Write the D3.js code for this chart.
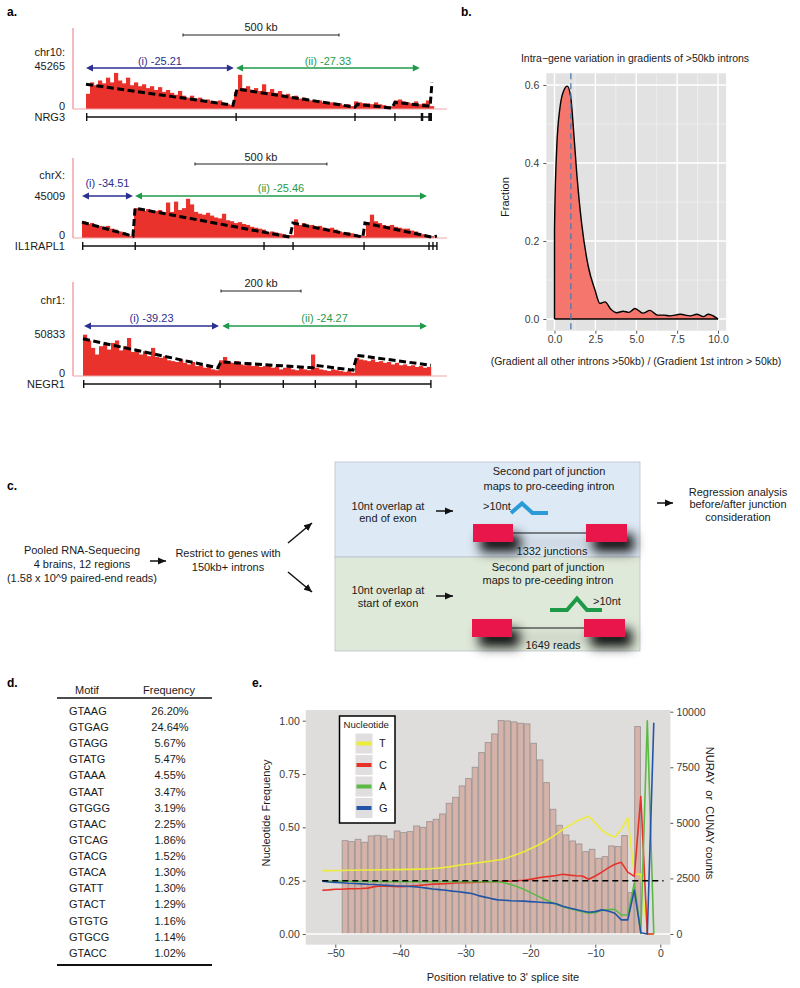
<!DOCTYPE html>
<html><head><meta charset="utf-8">
<script src="https://cdnjs.cloudflare.com/ajax/libs/d3/7.8.5/d3.min.js"></script>
<style>
html,body{margin:0;padding:0;background:#fff;}
svg{display:block;}
text{font-family:"Liberation Sans",Arial,Helvetica,sans-serif;}
</style></head><body>
<svg id="fig" width="800" height="988"></svg>
<script>
// ======================= DATA =======================
// ---- Panel a: coverage tracks (values in thousands of reads) ----
const trackChrom = ["chr10:", "chrX:", "chr1:"];
const trackGene = ["NRG3", "IL1RAPL1", "NEGR1"];
const trackMax = [45265, 45009, 50833];
const trackSpanKb = [1109, 1345, 870];
const trackBinKb = [12.82, 15.15, 10];
const scaleBarKb = [[311, 811], [428, 928], [345, 545]];
const scaleBarText = ["500 kb", "500 kb", "200 kb"];
const arrowIKb = [[0, 474], [0, 193], [2.5, 340]];
const arrowIIKb = [[481, 1070], [201, 1307], [348, 860]];
const gradI = ["(i) -25.21", "(i) -34.51", "(i) -39.23"];
const gradII = ["(ii) -27.33", "(ii) -25.46", "(ii) -24.27"];

const cov1 = [16,28,25,30,27,33,28,38,30,27,33,25,28,24,26,22,24,20,23,18,20,17,15,19,14,12,14,11,12,9,10,8,7,9,6,5,4,
  18,36,22,24,20,22,19,26,18,21,17,19,15,16,13,14,11,12,10,9,8,9,7,6,7,5,6,4,5,3,
  8,7,6,6,5,7,5,4,3,3,
  9,10,8,7,6,8,5,
  6,9,3];
const cov2 = [18,15,16,14,13,12,13,10,9,7,6,4,2,
  32,30,29,31,28,29,30,27,38,28,39,30,32,42,36,28,26,25,27,24,22,21,26,19,18,16,17,15,14,12,11,10,9,6,7,6,5,4,3,3,
  20,14,16,13,14,12,13,11,10,11,9,7,6,6,5,4,3,2,
  17,25,18,16,14,13,14,12,11,10,10,8,7,5,4,3,2];
const cov3 = [50,43,34,26,36,38,32,40,43,31,36,46,29,32,26,30,24,34,23,22,24,19,18,17,20,16,14,17,12,13,10,11,8,7,
  19,23,17,16,18,14,13,16,12,13,11,12,14,10,11,8,10,11,8,7,10,8,7,26,10,8,7,6,8,7,6,5,6,4,
  22,20,19,18,20,17,18,16,17,14,16,13,14,12,13,11,12,10,11];

const reg1 = [[0,26],[471,4],[484,21],[862,2],[869,5],[981,1],[990,7],[1071,4],[1103,3],[1109,28]];
const reg2 = [[0,17],[193,2],[201,32],[788,1],[799,16],[1064,1],[1072,16],[1326,1],[1345,2]];
const reg3 = [[0,45],[337,10],[345,17],[575,10],[580,13],[675,7],[685,25],[870,13]];

const exons1 = [[0,1.5],[479,482],[860,863],[988,991],[1073,1081],[1097,1109]];
const exons2 = [[0,2],[199,202],[687,690],[797,800],[1066,1069],[1312,1315],[1327,1330],[1342,1345]];
const exons3 = [[0,1.5],[341,344],[499,502],[579,582],[681,684],[868,870]];

// ---- Panel b: density ----
const densX = [0,0.13,0.34,0.58,0.78,0.99,1.15,1.36,1.66,2.07,2.48,2.78,3.09,3.45,3.8,4.2,4.55,4.92,5.4,5.84,6.3,6.7,7.05,7.7,8.3,8.7,9.1,9.4,9.9,10];
const densY = [0.228,0.433,0.544,0.587,0.597,0.57,0.493,0.374,0.245,0.134,0.074,0.040,0.044,0.025,0.016,0.02,0.017,0.027,0.015,0.022,0.01,0.01,0.008,0.012,0.008,0.012,0.006,0.012,0.003,0.0];
const bTicksX = [0, 2.5, 5, 7.5, 10];
const bTicksY = [0, 0.2, 0.4, 0.6];
const bMedian = 1.0;

// ---- Panel c: flow-chart texts ----
const cInput = ["Pooled RNA-Sequecing", "4 brains, 12 regions", "(1.58 x 10^9 paired-end reads)"];
const cRestrict = ["Restrict to genes with", "150kb+ introns"];
const cTopHead = ["Second part of junction", "maps to pro-ceeding intron"];
const cTopLeft = ["10nt overlap at", "end of exon"];
const cBotHead = ["Second part of junction", "maps to pre-ceeding intron"];
const cBotLeft = ["10nt overlap at", "start of exon"];
const cCounts = ["1332 junctions", "1649 reads"];
const cOut = ["Regression analysis", "before/after junction", "consideration"];

// ---- Panel d: motif table ----
const motifs = ["GTAAG","GTGAG","GTAGG","GTATG","GTAAA","GTAAT","GTGGG","GTAAC","GTCAG","GTACG","GTACA","GTATT","GTACT","GTGTG","GTGCG","GTACC"];
const motifFreq = [26.20,24.64,5.67,5.47,4.55,3.47,3.19,2.25,1.86,1.52,1.30,1.30,1.29,1.16,1.14,1.02];

// ---- Panel e: nucleotide frequency + counts ----
const barPos = [-49,-48,-47,-46,-45,-44,-43,-42,-41,-40,-39,-38,-37,-36,-35,-34,-33,-32,-31,-30,-29,-28,-27,-26,-25,-24,-23,-22,-21,-20,-19,-18,-17,-16,-15,-14,-13,-12,-11,-10,-9,-8,-7,-6,-5,-4];
const barCounts = [4200,4155,4260,4125,4410,4440,4410,4275,4635,4560,4605,4860,4800,5055,5160,5400,5880,6150,6660,6990,7500,8160,8610,9000,9600,9585,9540,9480,9450,8580,7830,6810,5610,4890,4455,4185,4050,3705,3810,3405,3480,3960,3930,4425,1860,9330];
const linePos = [-52,-51,-50,-49,-48,-47,-46,-45,-44,-43,-42,-41,-40,-39,-38,-37,-36,-35,-34,-33,-32,-31,-30,-29,-28,-27,-26,-25,-24,-23,-22,-21,-20,-19,-18,-17,-16,-15,-14,-13,-12,-11,-10,-9,-8,-7,-6,-5,-4,-3,-2,-1];
const freqT = [0.297,0.297,0.298,0.298,0.299,0.299,0.300,0.300,0.300,0.301,0.301,0.302,
  0.302,0.303,0.303,0.304,0.305,0.307,0.309,0.313,0.317,0.322,
  0.327,0.330,0.334,0.338,0.342,0.347,0.352,0.363,0.374,0.386,
  0.400,0.414,0.430,0.448,0.468,0.490,0.508,0.527,0.540,0.552,
  0.520,0.487,0.466,0.455,0.490,0.545,0.280,0.280,0.0,0.0];
const freqC = [0.205,0.207,0.210,0.210,0.212,0.212,0.213,0.215,0.222,0.225,0.224,0.223,
  0.222,0.223,0.226,0.228,0.231,0.234,0.235,0.236,0.238,0.240,
  0.241,0.242,0.243,0.244,0.245,0.246,0.247,0.248,0.250,0.252,
  0.256,0.262,0.267,0.270,0.274,0.280,0.276,0.273,0.272,0.257,
  0.272,0.290,0.310,0.327,0.336,0.290,0.270,0.644,0.0,0.0];
const freqA = [0.248,0.248,0.247,0.247,0.247,0.246,0.246,0.246,0.245,0.245,0.245,0.245,
  0.245,0.245,0.245,0.245,0.245,0.245,0.245,0.245,0.245,0.245,
  0.245,0.245,0.245,0.245,0.245,0.245,
  0.240,0.232,0.222,0.210,0.195,0.180,0.165,0.152,0.140,0.128,
  0.120,0.113,0.105,0.097,0.100,0.112,0.115,0.116,0.089,0.089,
  0.240,0.003,1.0,0.0];
const freqG = [0.248,0.244,0.242,0.240,0.238,0.237,0.235,0.233,0.232,0.230,0.228,0.226,
  0.225,0.224,0.222,0.219,0.215,0.211,0.208,0.205,0.201,0.198,
  0.194,0.190,0.180,0.173,0.166,0.160,0.158,0.156,0.155,0.154,
  0.152,0.150,0.148,0.146,0.142,0.130,0.122,0.115,0.108,0.102,
  0.105,0.113,0.108,0.097,0.066,0.066,0.206,0.006,0.0,0.99];
const nucNames = ["T", "C", "A", "G"];
const nucColors = ["#ecec3a", "#e5332a", "#5cb946", "#2355a6"];
const eTicksL = [0, 0.25, 0.5, 0.75, 1];
const eTicksR = [0, 2500, 5000, 7500, 10000];
const eTicksX = [-50, -40, -30, -20, -10, 0];
const uniformLevel = 0.25;

// ======================= DRAW =======================
const FONT = '"Liberation Sans", Arial, Helvetica, sans-serif';
const svg = d3.select("#fig");
svg.append("rect").attr("width", 800).attr("height", 988).attr("fill", "#fff");
const defs = svg.append("defs");

function T(g, x, y, s, o = {}) {
  const t = g.append("text").attr("x", x).attr("y", y).attr("dy", "0.35em")
    .attr("font-size", o.size || 11).attr("fill", o.fill || "#1a1a1a")
    .attr("text-anchor", o.anchor || "start").text(s);
  if (o.weight) t.attr("font-weight", o.weight);
  if (o.rotate) t.attr("transform", `rotate(${o.rotate},${x},${y})`);
  if (o.pre) t.attr("xml:space", "preserve").style("white-space", "pre");
  return t;
}

// panel letters
[["a.", 7, 12], ["b.", 461, 12], ["c.", 7, 486], ["d.", 7, 683], ["e.", 252, 683]]
  .forEach(([s, x, y]) => T(svg, x, y, s, { size: 12, weight: "bold", fill: "#000" }));

// ---------------- Panel a ----------------
const aLayout = [
  { x0: 86, x1: 432, base: 109, top: 66, axTop: 28, chrY: 52, sbY: 35, sbTextY: 27, arY: 68, arTextY: [61, 61], geneY: 117 },
  { x0: 82, x1: 437, base: 238, top: 196, axTop: 158, chrY: 175, sbY: 164, sbTextY: 157.5, arY: 196, arTextY: [183, 188], geneY: 246 },
  { x0: 83, x1: 431, base: 376, top: 334, axTop: 282, chrY: 300, sbY: 291, sbTextY: 283, arY: 326, arTextY: [318, 318], geneY: 384 }
];
const covs = [cov1, cov2, cov3], regs = [reg1, reg2, reg3], exonsAll = [exons1, exons2, exons3];
const pink = "#f2a3ab", navy = "#2b2f8f", grn = "#1f9a4a";

aLayout.forEach((L, i) => {
  const g = svg.append("g");
  const x = d3.scaleLinear().domain([0, trackSpanKb[i]]).range([L.x0, L.x1]);
  const y = d3.scaleLinear().domain([0, trackMax[i] / 1000]).range([L.base, L.top]);
  T(g, 65, L.chrY, trackChrom[i], { anchor: "end" });
  T(g, 65, L.top, String(trackMax[i]), { anchor: "end" });
  T(g, 65, L.base - 3, "0", { anchor: "end" });
  T(g, 65, L.geneY, trackGene[i], { anchor: "end" });
  g.append("line").attr("x1", 73).attr("x2", 73).attr("y1", L.axTop).attr("y2", L.base)
    .attr("stroke", pink).attr("stroke-width", 1.5);
  const bin = trackBinKb[i];
  g.selectAll("rect.cov").data(covs[i]).join("rect").attr("class", "cov")
    .attr("x", (d, j) => x(j * bin))
    .attr("width", (d, j) => x((j + 1) * bin) - x(j * bin) + 0.2)
    .attr("y", d => y(d)).attr("height", d => L.base - y(d))
    .attr("fill", "#e8322b");
  g.append("line").attr("x1", 73).attr("x2", 447).attr("y1", L.base).attr("y2", L.base)
    .attr("stroke", pink).attr("stroke-width", 1.2);
  g.append("path").datum(regs[i])
    .attr("d", d3.line().x(d => x(d[0])).y(d => y(d[1])))
    .attr("fill", "none").attr("stroke", "#000").attr("stroke-width", 3)
    .attr("stroke-dasharray", "7,3.5");
  const sb = scaleBarKb[i];
  g.append("line").attr("x1", x(sb[0])).attr("x2", x(sb[1])).attr("y1", L.sbY).attr("y2", L.sbY)
    .attr("stroke", "#222").attr("stroke-width", 1.2);
  [sb[0], sb[1]].forEach(v => g.append("line").attr("x1", x(v)).attr("x2", x(v))
    .attr("y1", L.sbY - 1.5).attr("y2", L.sbY + 1.5).attr("stroke", "#222").attr("stroke-width", 1));
  T(g, (x(sb[0]) + x(sb[1])) / 2, L.sbTextY, scaleBarText[i], { anchor: "middle" });
  [[arrowIKb[i], navy, gradI[i], L.arTextY[0]], [arrowIIKb[i], grn, gradII[i], L.arTextY[1]]].forEach(([a, col, lab, ty]) => {
    const xa = x(a[0]), xb = x(a[1]), yy = L.arY;
    g.append("line").attr("x1", xa + 3).attr("x2", xb - 3).attr("y1", yy).attr("y2", yy)
      .attr("stroke", col).attr("stroke-width", 1.3);
    g.append("path").attr("d", `M${xa},${yy} L${xa + 7},${yy - 3.5} L${xa + 7},${yy + 3.5} Z`).attr("fill", col);
    g.append("path").attr("d", `M${xb},${yy} L${xb - 7},${yy - 3.5} L${xb - 7},${yy + 3.5} Z`).attr("fill", col);
    T(g, (xa + xb) / 2, ty, lab, { anchor: "middle", fill: col });
  });
  const ex = exonsAll[i];
  g.append("line").attr("x1", x(0)).attr("x2", x(trackSpanKb[i])).attr("y1", L.geneY).attr("y2", L.geneY)
    .attr("stroke", "#111").attr("stroke-width", 1.4);
  g.selectAll("rect.ex").data(ex).join("rect").attr("class", "ex")
    .attr("x", d => x(d[0])).attr("width", d => Math.max(1.4, x(d[1]) - x(d[0])))
    .attr("y", L.geneY - 4).attr("height", 8).attr("fill", "#111");
});

// ---------------- Panel b ----------------
(function () {
  const g = svg.append("g");
  const bx = d3.scaleLinear().domain([0, 10]).range([554.5, 718]);
  const by = d3.scaleLinear().domain([0, 0.6]).range([319, 85]);
  const px0 = bx(-0.5), px1 = bx(10.5), py0 = by(0.63), py1 = by(-0.03);
  g.append("rect").attr("x", px0).attr("y", py0).attr("width", px1 - px0).attr("height", py1 - py0).attr("fill", "#e2e2e2");
  const minX = [1.25, 3.75, 6.25, 8.75], minY = [0.1, 0.3, 0.5];
  minX.forEach(v => g.append("line").attr("x1", bx(v)).attr("x2", bx(v)).attr("y1", py0).attr("y2", py1).attr("stroke", "#f2f2f2").attr("stroke-width", 0.7));
  minY.forEach(v => g.append("line").attr("x1", px0).attr("x2", px1).attr("y1", by(v)).attr("y2", by(v)).attr("stroke", "#f2f2f2").attr("stroke-width", 0.7));
  bTicksX.forEach(v => g.append("line").attr("x1", bx(v)).attr("x2", bx(v)).attr("y1", py0).attr("y2", py1).attr("stroke", "#fff").attr("stroke-width", 1.4));
  bTicksY.forEach(v => g.append("line").attr("x1", px0).attr("x2", px1).attr("y1", by(v)).attr("y2", by(v)).attr("stroke", "#fff").attr("stroke-width", 1.4));
  const pts = densX.map((d, k) => [d, densY[k]]);
  const area = d3.area().x(d => bx(d[0])).y0(by(0)).y1(d => by(d[1])).curve(d3.curveMonotoneX);
  g.append("path").datum(pts).attr("d", area).attr("fill", "#f4766c").attr("stroke", "none");
  const line = d3.line().x(d => bx(d[0])).y(d => by(d[1])).curve(d3.curveMonotoneX);
  g.append("path").datum([[0, 0]].concat(pts)).attr("d", line).attr("fill", "none").attr("stroke", "#000").attr("stroke-width", 1.4);
  g.append("line").attr("x1", bx(0)).attr("x2", bx(10)).attr("y1", by(0)).attr("y2", by(0)).attr("stroke", "#000").attr("stroke-width", 1.4);
  g.append("line").attr("x1", bx(bMedian)).attr("x2", bx(bMedian)).attr("y1", py0).attr("y2", py1)
    .attr("stroke", "#4a7bb0").attr("stroke-width", 1.3).attr("stroke-dasharray", "6,4");
  const ax = g.append("g").attr("transform", `translate(0,${py1})`)
    .call(d3.axisBottom(bx).tickValues(bTicksX).tickFormat(d3.format(".1f")).tickSize(3).tickPadding(2));
  const ay = g.append("g").attr("transform", `translate(${px0},0)`)
    .call(d3.axisLeft(by).tickValues(bTicksY).tickFormat(d3.format(".1f")).tickSize(3).tickPadding(4));
  [ax, ay].forEach(a => {
    a.select(".domain").remove();
    a.attr("font-family", FONT).attr("font-size", 10.5);
    a.selectAll("text").attr("fill", "#3a3a3a");
    a.selectAll("line").attr("stroke", "#555");
  });
  T(g, 635, 58, "Intra\u2212gene variation in gradients of >50kb introns", { anchor: "middle", size: 10.5 });
  T(g, 505, 197, "Fraction", { anchor: "middle", rotate: -90, size: 11 });
  T(g, 636, 361, "(Gradient all other introns >50kb) / (Gradient 1st intron > 50kb)", { anchor: "middle", size: 10.5 });
})();

// ---------------- Panel c ----------------
(function () {
  const g = svg.append("g");
  defs.append("marker").attr("id", "ah").attr("viewBox", "0 0 10 10").attr("refX", 10).attr("refY", 5)
    .attr("markerWidth", 8).attr("markerHeight", 8).attr("markerUnits", "userSpaceOnUse").attr("orient", "auto")
    .append("path").attr("d", "M0,0.5 L10,5 L0,9.5 Z").attr("fill", "#111");
  const f = defs.append("filter").attr("id", "sh").attr("x", "-30%").attr("y", "-120%").attr("width", "180%").attr("height", "400%");
  f.append("feDropShadow").attr("dx", 7).attr("dy", 10).attr("stdDeviation", 6).attr("flood-color", "#000").attr("flood-opacity", 0.95);
  const arrow = (x1, y1, x2, y2) => g.append("line").attr("x1", x1).attr("y1", y1).attr("x2", x2).attr("y2", y2)
    .attr("stroke", "#111").attr("stroke-width", 1.5).attr("marker-end", "url(#ah)");
  const lines = (arr, cx, cy, step) => arr.forEach((s, k) => T(g, cx, cy + k * step, s, { anchor: "middle", size: 11 }));

  lines(cInput, 82, 550, 14);
  arrow(150, 561, 166, 561);
  lines(cRestrict, 228, 553, 14);
  arrow(288, 543, 312, 523);
  arrow(288, 572, 312, 592);
  g.append("rect").attr("x", 335).attr("y", 462).attr("width", 305).attr("height", 95).attr("fill", "#dde9f5").attr("stroke", "#b9c3cc").attr("stroke-width", 0.8);
  g.append("rect").attr("x", 335).attr("y", 557).attr("width", 305).attr("height", 94).attr("fill", "#dfe9d9").attr("stroke", "#b9c3cc").attr("stroke-width", 0.8);
  lines(cTopHead, 549, 471, 15);
  lines(cTopLeft, 388, 506, 12.5);
  arrow(436, 511, 453, 511);
  T(g, 483, 506, ">10nt", { size: 11 });
  g.append("path").attr("d", "M511,513 L522,503.5 L532.5,513 L548,513").attr("fill", "none").attr("stroke", "#2a9bd7").attr("stroke-width", 4);
  const gt = g.append("g").attr("filter", "url(#sh)");
  gt.append("line").attr("x1", 512).attr("x2", 587).attr("y1", 533).attr("y2", 533).attr("stroke", "#111").attr("stroke-width", 1.2);
  gt.append("rect").attr("x", 473).attr("y", 524).attr("width", 40).attr("height", 18).attr("fill", "#e8194b");
  gt.append("rect").attr("x", 586).attr("y", 524).attr("width", 41).attr("height", 18).attr("fill", "#e8194b");
  T(g, 552, 551, cCounts[0], { anchor: "middle", size: 11 });
  lines(cBotHead, 548, 567, 13.5);
  lines(cBotLeft, 388, 590, 13);
  arrow(436, 596, 453, 596);
  T(g, 593, 601, ">10nt", { size: 11 });
  g.append("path").attr("d", "M550,610 L567,610 L577,598.5 L587,610 L602,610").attr("fill", "none").attr("stroke", "#1c9a47").attr("stroke-width", 4);
  const gb = g.append("g").attr("filter", "url(#sh)");
  gb.append("line").attr("x1", 511).attr("x2", 585).attr("y1", 628).attr("y2", 628).attr("stroke", "#111").attr("stroke-width", 1.2);
  gb.append("rect").attr("x", 472).attr("y", 619).attr("width", 40).attr("height", 18).attr("fill", "#e8194b");
  gb.append("rect").attr("x", 584).attr("y", 619).attr("width", 41).attr("height", 18).attr("fill", "#e8194b");
  T(g, 553, 645, cCounts[1], { anchor: "middle", size: 11 });
  arrow(657, 503, 673, 503);
  lines(cOut, 738, 492, 12.5);
})();

// ---------------- Panel d ----------------
(function () {
  const g = svg.append("g");
  T(g, 87, 690, "Motif", { anchor: "middle" });
  T(g, 169, 690, "Frequency", { anchor: "middle" });
  g.append("line").attr("x1", 57).attr("x2", 212).attr("y1", 698).attr("y2", 698).attr("stroke", "#111").attr("stroke-width", 1.5);
  const ry = d3.scaleLinear().domain([0, motifs.length - 1]).range([711, 953]);
  motifs.forEach((m, k) => {
    T(g, 69, ry(k), m);
    T(g, 170, ry(k), motifFreq[k].toFixed(2) + "%", { anchor: "middle" });
  });
  g.append("line").attr("x1", 57).attr("x2", 212).attr("y1", 965).attr("y2", 965).attr("stroke", "#111").attr("stroke-width", 2);
})();

// ---------------- Panel e ----------------
(function () {
  const g = svg.append("g");
  const ex = d3.scaleLinear().domain([-50, 0]).range([335.3, 660.3]);
  const eyL = d3.scaleLinear().domain([0, 1]).range([934, 720.7]);
  const eyR = d3.scaleLinear().domain([0, 10000]).range([934, 711.7]);
  const px0 = ex(-54.55), px1 = ex(1.55), py0 = eyL(1.05), py1 = eyL(-0.05);
  g.append("rect").attr("x", px0).attr("y", py0).attr("width", px1 - px0).attr("height", py1 - py0).attr("fill", "#dfdcdc");
  g.selectAll("rect.bar").data(barPos).join("rect").attr("class", "bar")
    .attr("x", d => ex(d) + 0.4).attr("width", d => ex(d + 1) - ex(d) - 0.8)
    .attr("y", (d, k) => eyR(barCounts[k])).attr("height", (d, k) => eyR(0) - eyR(barCounts[k]))
    .attr("fill", "#d5b3a9").attr("stroke", "#9e9595").attr("stroke-width", 0.9);
  g.append("line").attr("x1", px0).attr("x2", px1).attr("y1", eyL(0)).attr("y2", eyL(0)).attr("stroke", "#fff").attr("stroke-width", 1.4);
  const series = [freqT, freqC, freqA, freqG];
  const ln = d3.line().x(d => ex(d[0])).y(d => eyL(d[1]));
  series.forEach((s, k) => {
    g.append("path").datum(linePos.map((p, j) => [p, s[j]])).attr("d", ln)
      .attr("fill", "none").attr("stroke", nucColors[k]).attr("stroke-width", 1.6).attr("stroke-linejoin", "round");
  });
  g.append("line").attr("x1", ex(-52)).attr("x2", ex(0.5)).attr("y1", eyL(uniformLevel)).attr("y2", eyL(uniformLevel))
    .attr("stroke", "#000").attr("stroke-width", 1.6).attr("stroke-dasharray", "6,4");
  const aL = g.append("g").attr("transform", `translate(${px0},0)`)
    .call(d3.axisLeft(eyL).tickValues(eTicksL).tickFormat(d3.format(".2f")).tickSize(3).tickPadding(3));
  const aR = g.append("g").attr("transform", `translate(${px1},0)`)
    .call(d3.axisRight(eyR).tickValues(eTicksR).tickFormat(d3.format("d")).tickSize(3).tickPadding(3));
  const aB = g.append("g").attr("transform", `translate(0,${py1})`)
    .call(d3.axisBottom(ex).tickValues(eTicksX).tickFormat(d3.format("d")).tickSize(3).tickPadding(2));
  [aL, aR, aB].forEach(a => {
    a.select(".domain").remove();
    a.attr("font-family", FONT).attr("font-size", 10.5);
    a.selectAll("text").attr("fill", "#3a3a3a");
    a.selectAll("line").attr("stroke", "#555");
  });
  T(g, 266, 813, "Nucleotide Frequency", { anchor: "middle", rotate: -90, size: 11 });
  T(g, 710, 813, "NURAY  or  CUNAY counts", { anchor: "middle", rotate: 90, size: 11, pre: true });
  T(g, 503, 977, "Position relative to 3' splice site", { anchor: "middle", size: 11 });
  const lg = g.append("g");
  lg.append("rect").attr("x", 339.5).attr("y", 716).attr("width", 55.5).attr("height", 107).attr("fill", "#fff").attr("stroke", "#000").attr("stroke-width", 1.5);
  T(lg, 343.5, 725, "Nucleotide", { size: 9.6 });
  nucNames.forEach((n, k) => {
    const cy = 743.5 + k * 21.5;
    lg.append("rect").attr("x", 355.5).attr("y", cy - 10).attr("width", 17).attr("height", 20).attr("fill", "#e0dede");
    lg.append("line").attr("x1", 356.5).attr("x2", 371.5).attr("y1", cy).attr("y2", cy).attr("stroke", nucColors[k]).attr("stroke-width", 4);
    T(lg, 379, cy, n, { size: 11 });
  });
})();
</script></body></html>
